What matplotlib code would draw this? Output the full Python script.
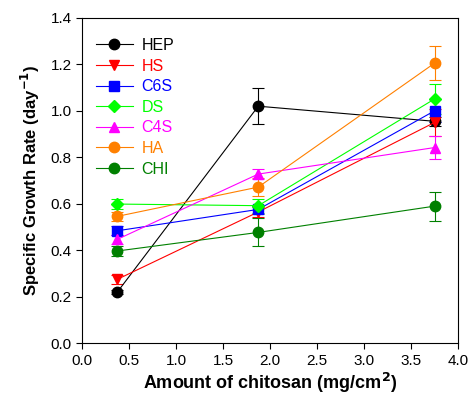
import matplotlib
matplotlib.use("Agg")
import matplotlib.pyplot as plt
from matplotlib.lines import Line2D

plt.rcParams['font.family'] = ['Liberation Sans', 'DejaVu Sans']

# chitosan amount (mg/cm2)
x = [0.375, 1.875, 3.75]

names = ['HEP', 'HS', 'C6S', 'DS', 'C4S', 'HA', 'CHI']
colors = ['black', '#ff0000', '#0000ff', '#00ff00', '#ff00ff', '#ff8000', '#008000']
markers = ['o', 'v', 's', 'D', '^', 'o', 'o']

hep = [0.22, 1.02, 0.955]
hs = [0.275, 0.565, 0.95]
c6s = [0.484, 0.576, 1.0]
ds = [0.599, 0.592, 1.051]
c4s = [0.447, 0.728, 0.842]
ha = [0.546, 0.672, 1.205]
chi = [0.397, 0.477, 0.59]

hep_err = [0.01, 0.077, 0.02]
hs_err = [0.02, 0.02, 0.06]
c6s_err = [0.02, 0.02, 0.05]
ds_err = [0.02, 0.03, 0.065]
c4s_err = [0.02, 0.02, 0.05]
ha_err = [0.02, 0.04, 0.072]
chi_err = [0.02, 0.06, 0.063]

series = [hep, hs, c6s, ds, c4s, ha, chi]
errs = [hep_err, hs_err, c6s_err, ds_err, c4s_err, ha_err, chi_err]

fig = plt.figure(figsize=(4.7, 3.97), dpi=100)
ax = fig.add_axes([0.1745, 0.1353, 0.8, 0.8197])

handles = []
for name, y, e, c, m in zip(names, series, errs, colors, markers):
    ms = 6.5 if m == 'D' else 7.5
    ax.errorbar(x, y, yerr=e, color=c, marker=m, markersize=ms, lw=0.8,
                elinewidth=0.8, capsize=4, capthick=0.8)
    handles.append(Line2D([], [], color=c, marker=m, markersize=ms, lw=0.8, label=name))

ax.set_xlim(0, 4.0)
ax.set_ylim(0, 1.4)
ax.set_xticks([0.0, 0.5, 1.0, 1.5, 2.0, 2.5, 3.0, 3.5, 4.0])
ax.set_yticks([0.0, 0.2, 0.4, 0.6, 0.8, 1.0, 1.2, 1.4])
ax.xaxis.set_major_formatter(matplotlib.ticker.FormatStrFormatter('%.1f'))
ax.yaxis.set_major_formatter(matplotlib.ticker.FormatStrFormatter('%.1f'))
ax.tick_params(direction='out', length=4, width=0.8, labelsize=11)
for s in ax.spines.values():
    s.set_linewidth(0.8)

ax.set_xlabel('Amount of chitosan (mg/cm$^\\mathbf{2}$)', fontsize=13, fontweight='bold', labelpad=2)
ax.set_ylabel('Specific Growth Rate (day$^\\mathbf{-1}$)', fontsize=12, fontweight='bold', labelpad=6)

leg = ax.legend(handles=handles, loc='upper left', frameon=False, fontsize=11.5,
                handlelength=2.3, labelspacing=0.35, handletextpad=0.55,
                bbox_to_anchor=(-0.005, 0.987), borderaxespad=0.6)
for t, c in zip(leg.get_texts(), colors):
    t.set_color(c)

fig.savefig('out.png', dpi=100)
